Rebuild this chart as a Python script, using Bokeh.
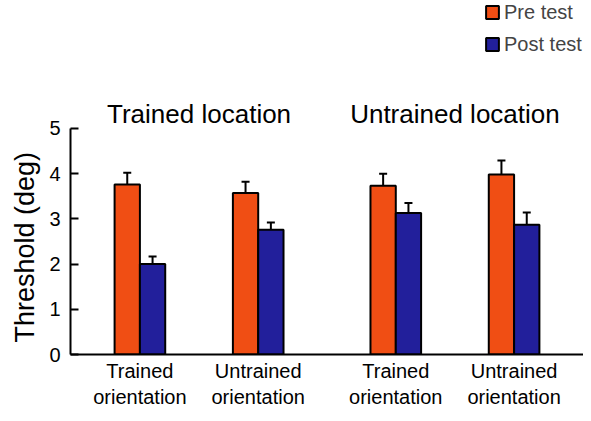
from bokeh.plotting import figure
from bokeh.models import (FactorRange, Range1d, FixedTicker, Whisker, TeeHead,
                          Legend, LegendItem, ColumnDataSource, Title)
from bokeh.transform import dodge
from bokeh.core.properties import value
from bokeh.embed import file_html
from bokeh.resources import INLINE

# ---- data ----
locations = ["Trained location", "Untrained location"]
orientations = ["Trained\norientation", "Untrained\norientation"]
series_labels = ["Pre test", "Post test"]
y_label = "Threshold (deg)"
pre_test = [3.76, 3.57, 3.73, 3.98]
pre_err = [0.26, 0.25, 0.27, 0.31]
post_test = [2.00, 2.76, 3.13, 2.87]
post_err = [0.17, 0.16, 0.22, 0.27]
y_ticks = [0, 1, 2, 3, 4, 5]

# ---- styles ----
FONT = "Liberation Sans"
ORANGE = "#F04E14"
BLUE = "#221F9B"
BAR_W = 0.214
TITLE_Y = 5.33

factors = [(loc, ori) for loc in locations for ori in orientations]

x_range = FactorRange(*factors, factor_padding=0.0, group_padding=0.163,
                      range_padding=0.0867, range_padding_units="absolute")

p = figure(x_range=x_range, y_range=Range1d(0, 7.83), width=583, height=413,
           output_backend="svg", toolbar_location=None,
           min_border_left=63, min_border_right=0, min_border_top=0,
           min_border_bottom=59)
p.outline_line_color = None
p.grid.visible = False
p.background_fill_color = "white"

source = ColumnDataSource(dict(
    x=factors,
    pre=pre_test,
    pre_top=[v + e for v, e in zip(pre_test, pre_err)],
    post=post_test,
    post_top=[v + e for v, e in zip(post_test, post_err)],
))

pre_x = dodge("x", -BAR_W / 2, range=p.x_range)
post_x = dodge("x", BAR_W / 2, range=p.x_range)

r_pre = p.vbar(x=pre_x, top="pre", width=BAR_W, source=source,
               fill_color=ORANGE, line_color="black", line_width=2)
r_post = p.vbar(x=post_x, top="post", width=BAR_W, source=source,
                fill_color=BLUE, line_color="black", line_width=2)

for base, lo, hi in [(pre_x, "pre", "pre_top"), (post_x, "post", "post_top")]:
    w = Whisker(source=source, base=base, lower=lo, upper=hi,
                dimension="height", line_width=2, line_color="black",
                lower_head=None,
                upper_head=TeeHead(size=8, line_width=2, line_color="black"))
    p.add_layout(w)

# group titles
p.text(x=locations, y=[TITLE_Y] * len(locations), text=locations,
       text_align="center", text_baseline="alphabetic",
       text_font=value(FONT), text_font_size="26px", text_color="black")

# y axis
p.yaxis.ticker = FixedTicker(ticks=y_ticks)
p.yaxis.bounds = (0, 5)
p.yaxis.major_label_text_font = FONT
p.yaxis.major_label_text_font_size = "20px"
p.yaxis.major_label_standoff = 10
p.yaxis.major_tick_in = 8
p.yaxis.major_tick_out = 0
p.yaxis.minor_tick_in = 0
p.yaxis.minor_tick_out = 0
p.yaxis.major_tick_line_width = 2
p.yaxis.minor_tick_line_color = None
p.yaxis.axis_line_width = 2
p.yaxis.major_label_text_color = "black"

# y axis label as a left-side title, anchored near the bottom of the frame
p.add_layout(Title(text=y_label, align="left", offset=12, standoff=14,
                   text_font=FONT, text_font_size="27px",
                   text_font_style="normal", text_color="black"), "left")

# x axis
p.xaxis.axis_line_width = 2
p.xaxis.major_tick_line_color = None
p.xaxis.major_tick_in = 0
p.xaxis.major_tick_out = 0
p.xaxis.minor_tick_in = 0
p.xaxis.minor_tick_out = 0
p.xaxis.minor_tick_line_color = None
p.xaxis.major_label_text_font = FONT
p.xaxis.major_label_text_font_size = "20px"
p.xaxis.major_label_standoff = 5
p.xaxis.major_label_text_color = "black"
p.xaxis.group_text_font_size = "0px"
p.xaxis.group_text_color = None
p.xaxis.separator_line_color = None

legend = Legend(items=[LegendItem(label=series_labels[0], renderers=[r_pre]),
                       LegendItem(label=series_labels[1], renderers=[r_post])],
                location=(414, 298), glyph_width=16, glyph_height=16,
                label_text_font=FONT, label_text_font_size="20px",
                label_standoff=4, spacing=8, padding=0, margin=0,
                label_height=24, border_line_color=None,
                background_fill_alpha=0)
p.add_layout(legend)

open("out.html", "w").write(file_html(p, INLINE))
